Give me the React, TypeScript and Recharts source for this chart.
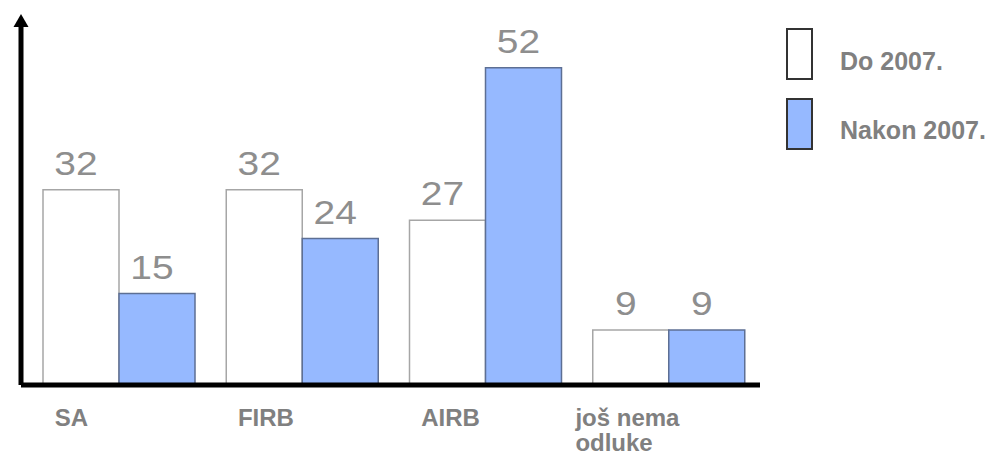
import React from 'react';
import { BarChart, Bar, XAxis, YAxis, LabelList } from 'recharts';

const categories = ['SA', 'FIRB', 'AIRB', 'još nema odluke'];
const do2007 = [32, 32, 27, 9];
const nakon2007 = [15, 24, 52, 9];
const seriesNames = ['Do 2007.', 'Nakon 2007.'];
const yDomain: [number, number] = [0, 60];

const FONT = '"Liberation Sans", Arial, Helvetica, sans-serif';
const BLUE = '#96b9ff';

const data = categories.map((c, i) => ({ name: c, a: do2007[i], b: nakon2007[i] }));

const series = [
  { key: 'a', name: seriesNames[0], fill: '#ffffff', stroke: '#a6a6a6', legendStroke: '#333333' },
  { key: 'b', name: seriesNames[1], fill: BLUE, stroke: '#5d6f94', legendStroke: '#333333' },
];

function splitLabel(s: string): string[] {
  const words = s.split(' ');
  if (words.length > 2) return [words.slice(0, 2).join(' '), words.slice(2).join(' ')];
  return [s];
}

const Tick = (props: any) => {
  const { x, y, payload } = props;
  const lines = splitLabel(String(payload.value));
  const longest = Math.max(...lines.map((l) => l.length));
  const startX = lines.length > 1 ? x - 37 - (longest * 14) / 2 : x - 64;
  return (
    <text
      x={startX}
      y={y + 41}
      textAnchor="start"
      fontFamily={FONT}
      fontWeight="bold"
      fontSize={24}
      fill="#808080"
    >
      {lines.map((l, i) => (
        <tspan key={i} x={startX} dy={i === 0 ? 0 : 25}>
          {l}
        </tspan>
      ))}
    </text>
  );
};

const ValueLabel = (props: any) => {
  const { x, y, width, value } = props;
  const cx = Number(x) + Number(width) / 2 - 5;
  const ty = Number(y) - 15;
  return (
    <text
      transform={`translate(${cx},${ty}) scale(1.18,1)`}
      x={0}
      y={0}
      textAnchor="middle"
      fontFamily={FONT}
      fontSize={33}
      fill="#8e8e8e"
    >
      {value}
    </text>
  );
};

export default function App() {
  return (
    <div style={{ position: 'absolute', left: 0, top: 0, width: 996, height: 456, background: '#fff' }}>
      <BarChart
        width={996}
        height={456}
        data={data}
        margin={{ top: 19, right: 236, bottom: 0, left: 20 }}
        barCategoryGap={16}
        barGap={0}
      >
        <defs>
          <marker
            id="yArrow"
            markerUnits="userSpaceOnUse"
            markerWidth={14}
            markerHeight={16}
            refX={8}
            refY={8}
            orient="auto-start-reverse"
            viewBox="0 0 14 16"
          >
            <path d="M0,0.5 L13,8 L0,15.5 z" fill="#000" />
          </marker>
        </defs>
        <XAxis
          dataKey="name"
          axisLine={{ stroke: '#000', strokeWidth: 5 }}
          tickLine={false}
          tickSize={0}
          tickMargin={0}
          height={71}
          interval={0}
          padding={{ left: 6, right: 0 }}
          tick={<Tick />}
        />
        <YAxis
          domain={yDomain}
          width={1}
          tick={false}
          tickLine={false}
          axisLine={{ stroke: '#000', strokeWidth: 5, markerStart: 'url(#yArrow)' }}
        />
        {series.map((s) => (
          <Bar
            key={s.key}
            dataKey={s.key}
            name={s.name}
            fill={s.fill}
            stroke={s.stroke}
            strokeWidth={1.5}
            isAnimationActive={false}
          >
            <LabelList dataKey={s.key} content={<ValueLabel />} />
          </Bar>
        ))}
      </BarChart>
      {series.map((s, i) => (
        <div key={s.key}>
          <div
            style={{
              position: 'absolute',
              left: 786,
              top: 28 + i * 70,
              width: 23,
              height: 48,
              background: s.fill,
              border: `2px solid ${s.legendStroke}`,
            }}
          />
          <div
            style={{
              position: 'absolute',
              left: 840,
              top: 46 + i * 69,
              fontFamily: FONT,
              fontWeight: 'bold',
              fontSize: 25,
              lineHeight: '30px',
              color: '#808080',
              whiteSpace: 'nowrap',
            }}
          >
            {s.name}
          </div>
        </div>
      ))}
    </div>
  );
}
